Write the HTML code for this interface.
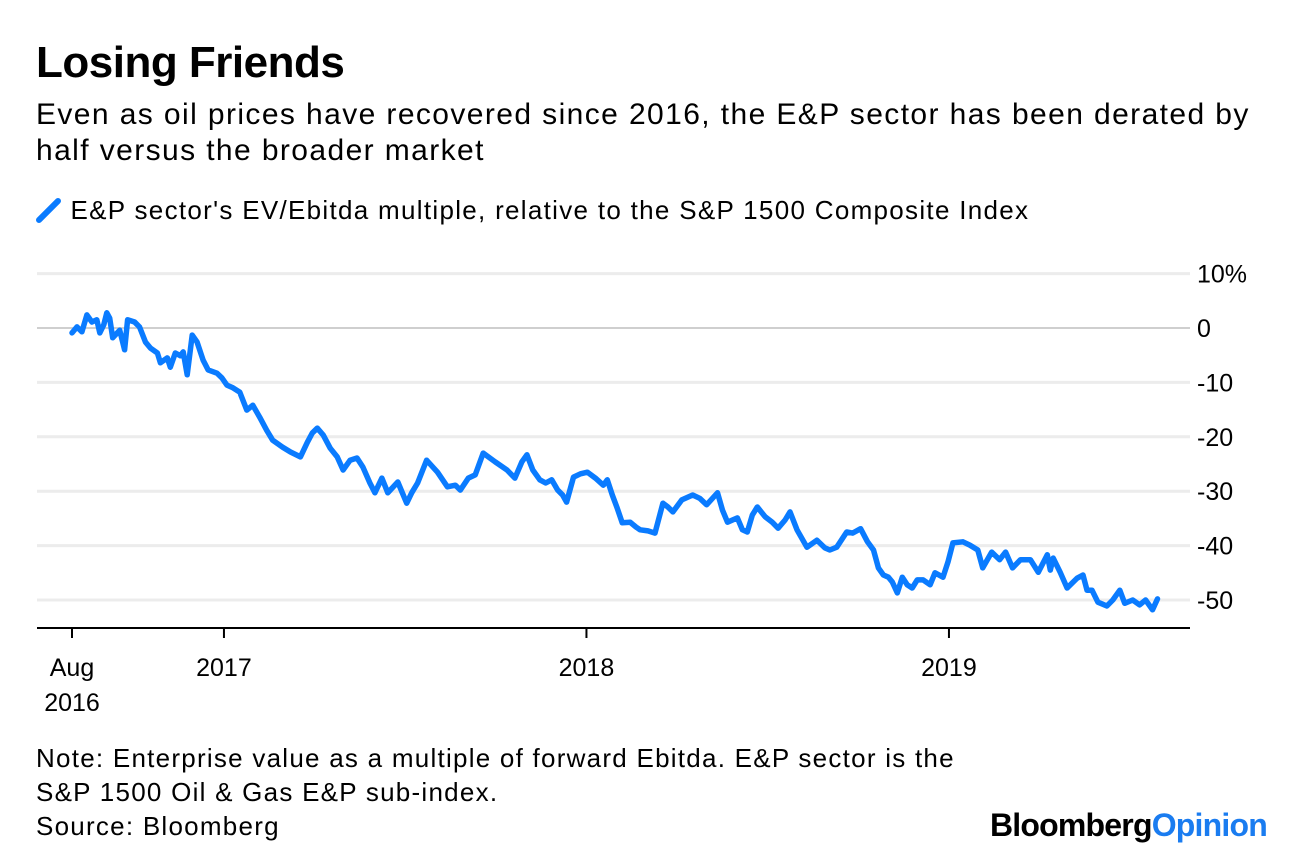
<!DOCTYPE html>
<html><head><meta charset="utf-8">
<style>
body{margin:0;width:1296px;height:858px;background:#fff;font-family:"Liberation Sans",sans-serif;color:#000;position:relative;overflow:hidden}
.t{position:absolute;white-space:nowrap}
</style></head><body>
<div class="t" style="left:36px;top:38px;font-size:44px;font-weight:bold;letter-spacing:-0.5px">Losing Friends</div>
<div class="t" style="left:36px;top:97px;font-size:30px;line-height:36px;letter-spacing:1.4px">Even as oil prices have recovered since 2016, the E&amp;P sector has been derated by<br>half versus the broader market</div>
<div class="t" style="left:36px;top:195px;font-size:26px;letter-spacing:1.3px">
<svg width="26" height="26" style="vertical-align:-4px"><line x1="3" y1="23" x2="22" y2="4" stroke="#0a7bff" stroke-width="6" stroke-linecap="round"/></svg> E&amp;P sector's EV/Ebitda multiple, relative to the S&amp;P 1500 Composite Index</div>
<svg id="chart" width="1296" height="858" style="position:absolute;left:0;top:0"></svg>
<div class="t" style="left:36px;top:741px;font-size:26px;line-height:34px;letter-spacing:1.25px">Note: Enterprise value as a multiple of forward Ebitda. E&amp;P sector is the<br>S&amp;P 1500 Oil &amp; Gas E&amp;P sub-index.<br>Source: Bloomberg</div>
<div class="t" style="left:990px;top:807px;font-size:32px;font-weight:bold;letter-spacing:-0.8px">Bloomberg<span style="color:#1a7cf0">Opinion</span></div>
<script>
const days=[0,5,10,15,20,25,28,32,35,38,41,48,53,56,63,68,74,79,86,89,96,99,104,109,112,116,121,126,132,137,146,151,156,162,169,176,182,189,196,202,212,220,230,237,242,247,253,260,267,273,280,287,293,300,305,312,318,328,337,342,348,357,368,378,386,391,399,406,414,426,438,446,453,458,464,471,477,483,489,494,498,505,512,519,527,535,539,544,549,554,562,568,572,580,587,595,600,605,614,625,632,639,650,655,660,670,675,680,685,690,698,705,711,718,723,730,740,750,758,763,770,780,786,794,801,807,812,817,822,826,831,836,841,846,851,857,864,869,877,882,887,897,904,912,917,926,934,940,947,955,965,973,982,985,988,995,1002,1012,1018,1022,1027,1033,1042,1048,1055,1060,1068,1075,1081,1088,1093];
const values=[-0.9,0.2,-0.7,2.4,1.1,1.5,-0.9,0.6,2.8,1.8,-1.8,-0.4,-4.0,1.5,1.1,0.2,-2.6,-3.7,-4.6,-6.4,-5.5,-7.2,-4.6,-5.1,-4.4,-8.6,-1.3,-2.6,-5.9,-7.7,-8.3,-9.2,-10.5,-11.0,-11.8,-15.1,-14.2,-16.4,-18.8,-20.6,-21.9,-22.8,-23.7,-21.0,-19.3,-18.4,-19.7,-22.1,-23.7,-26.1,-24.3,-23.9,-25.6,-28.5,-30.3,-27.6,-30.3,-28.3,-32.2,-30.3,-28.5,-24.3,-26.5,-29.2,-28.9,-29.8,-27.6,-27.0,-23.0,-24.6,-26.1,-27.6,-24.6,-23.3,-26.1,-27.9,-28.5,-27.9,-29.8,-30.7,-32.0,-27.4,-26.8,-26.5,-27.6,-28.9,-27.9,-30.7,-33.1,-35.8,-35.7,-36.6,-37.1,-37.3,-37.7,-32.2,-32.9,-33.8,-31.6,-30.7,-31.3,-32.5,-30.3,-33.5,-35.7,-34.9,-37.1,-37.5,-34.4,-32.9,-34.7,-35.7,-36.8,-35.3,-33.8,-37.1,-40.3,-39.0,-40.4,-40.8,-40.3,-37.5,-37.7,-36.9,-39.3,-40.8,-44.1,-45.4,-45.8,-46.7,-48.7,-45.8,-47.2,-47.8,-46.3,-46.3,-47.2,-45.0,-45.8,-43.0,-39.5,-39.3,-39.9,-40.8,-44.1,-41.2,-42.6,-41.2,-44.1,-42.6,-42.6,-44.9,-41.7,-44.5,-42.3,-44.9,-47.8,-46.0,-45.4,-48.2,-48.2,-50.4,-51.1,-50.0,-48.2,-50.6,-50.0,-50.9,-50.0,-51.8,-49.8];
const yTicks=[10,0,-10,-20,-30,-40,-50];
const yTickLabels=["10%","0","-10","-20","-30","-40","-50"];
const xTickDays=[0,153,518,883];
const xTickLabels=[["Aug","2016"],["2017"],["2018"],["2019"]];

const NS="http://www.w3.org/2000/svg";
const svg=document.getElementById('chart');
const X=d=>72+d*362.5/365;
const Y=v=>328-v*5.44;
function mk(tag,attrs){const e=document.createElementNS(NS,tag);for(const k in attrs)e.setAttribute(k,attrs[k]);svg.appendChild(e);return e;}
yTicks.forEach((v,i)=>{
  const g=mk('line',{x1:37,x2:1190,y1:Y(v),y2:Y(v),stroke:v===0?'#cfcfcf':'#ececec','stroke-width':v===0?2:3});
  
  
  const t=mk('text',{x:1197,y:Y(v)+9,'font-size':25,'font-family':'Liberation Sans, sans-serif'});
  t.textContent=yTickLabels[i];
  
  
});
const ax=mk('line',{x1:37,x2:1190,y1:628,y2:628,stroke:'#000','stroke-width':2});


xTickDays.forEach((d,i)=>{
  const tk=mk('line',{x1:X(d),x2:X(d),y1:628,y2:638,stroke:'#000','stroke-width':2});
  
  
  xTickLabels[i].forEach((s,j)=>{
    const t=mk('text',{x:X(d),y:676+j*35,'font-size':25,'text-anchor':'middle','font-family':'Liberation Sans, sans-serif'});
    t.textContent=s;
    
    
  });
});
const pts=days.map((d,i)=>X(d).toFixed(1)+','+Y(values[i]).toFixed(1)).join(' ');
const pl=mk('polyline',{points:pts,fill:'none',stroke:'#0a7bff','stroke-width':5.5,'stroke-linejoin':'round','stroke-linecap':'round'});


</script>
</body></html>
